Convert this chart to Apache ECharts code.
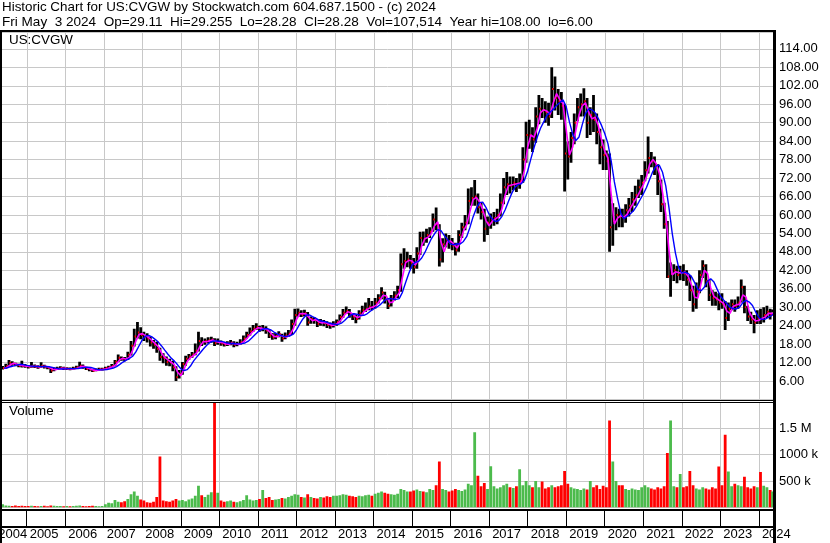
<!DOCTYPE html>
<html><head><meta charset="utf-8">
<script src="https://cdn.jsdelivr.net/npm/echarts@6/dist/echarts.min.js"></script>
<style>html,body{margin:0;padding:0;background:#fff}#c{width:830px;height:543px}</style>
</head><body><div id="c"></div>
<script>
// ---- data (monthly, May 2004 .. May 2024) ----
const firstMonth = {year: 2004, month: 5};
const firstOpen = 10.0;
const closes = [
 10.2,10.8,11.9,11.6,11.3,11.0,10.9,10.8,
 10.6,10.8,10.7,10.5,10.9,10.6,10.3,9.4,9.9,10.0,10.2,10.0,
 10.0,9.9,10.1,10.4,11.0,10.5,10.0,9.7,9.3,9.6,9.8,9.8,
 10.2,10.5,10.9,12.3,13.6,13.2,13.0,14.5,17.5,20.5,21.8,21.0,
 20.5,19.8,18.5,17.8,16.5,13.8,13.5,12.2,12.0,10.5,7.2,8.2,
 11.5,13.2,14.0,14.6,15.8,19.0,18.6,18.9,19.2,19.4,18.3,18.8,
 18.2,17.9,18.1,18.4,17.8,18.0,18.6,19.8,21.0,22.2,23.0,23.6,
 22.8,23.0,22.4,20.8,20.2,20.6,21.2,19.8,20.8,21.4,24.5,27.5,
 28.2,27.6,28.0,25.0,26.2,25.8,24.6,25.2,24.8,24.2,24.0,24.5,
 25.2,26.8,28.2,28.8,27.6,27.0,26.2,28.0,29.0,29.5,30.2,30.0,
 31.5,33.0,34.8,32.5,30.5,32.8,33.8,35.5,44.0,45.0,45.5,44.5,
 43.0,47.5,52.5,52.0,53.5,54.5,58.5,57.0,45.5,50.5,52.0,51.0,
 50.0,48.5,53.5,56.0,57.5,64.5,65.5,66.0,62.5,61.0,55.5,57.5,
 58.5,59.0,60.0,64.0,69.0,70.0,69.5,70.5,70.0,71.0,78.0,86.0,
 86.0,84.5,92.0,94.5,94.0,93.5,92.0,101.0,98.0,97.0,95.5,80.0,
 79.0,85.0,90.0,95.0,96.0,97.0,90.0,92.5,91.0,87.0,82.0,79.5,
 77.5,56.0,58.0,60.0,59.5,59.0,61.5,63.0,65.0,66.5,69.0,70.5,
 74.5,78.5,77.5,76.0,71.0,63.5,57.0,40.0,41.0,42.0,40.5,41.8,
 41.0,39.0,35.5,31.0,35.0,40.5,43.5,38.5,34.0,33.0,32.5,31.5,
 31.0,26.5,29.5,31.0,30.5,31.5,36.5,30.0,27.0,26.0,25.0,26.5,
 26.2,27.5,28.5,27.5,28.28
];
const highs = [
 10.9,11.6,12.8,12.4,11.9,11.6,12.6,11.5,
 11.2,12.2,11.4,11.1,12.1,11.3,10.9,10.5,10.4,10.6,10.8,10.6,
 10.5,10.4,10.6,11.0,12.3,11.4,10.6,10.3,9.9,10.1,10.3,10.3,
 10.6,11.0,11.5,12.8,14.6,14.0,13.8,15.5,19.0,23.0,25.2,23.5,
 22.0,21.5,20.5,19.3,18.8,16.8,15.0,14.0,13.2,12.6,10.8,9.6,
 12.2,14.2,14.8,15.4,18.2,22.0,20.2,19.8,20.2,20.4,19.9,19.8,
 19.2,18.8,18.9,19.3,18.9,18.8,19.6,20.8,22.0,23.4,24.2,24.8,
 24.0,24.2,23.8,22.8,21.6,21.6,22.2,21.4,21.8,22.6,26.0,29.5,
 29.6,29.0,29.2,28.4,27.0,26.8,26.0,26.2,25.8,25.4,25.0,25.4,
 26.0,27.6,29.4,30.2,29.4,28.0,27.6,29.0,30.5,31.5,33.0,32.0,
 33.0,34.2,36.5,35.0,32.6,34.0,35.2,37.0,47.5,49.2,48.0,47.0,
 46.0,49.5,54.5,54.6,55.5,56.0,60.5,62.4,57.0,52.4,54.0,53.5,
 52.5,51.0,55.0,57.5,60.0,68.6,69.0,71.4,67.0,64.0,62.0,59.5,
 60.5,61.0,62.0,67.0,72.0,74.0,72.5,72.5,72.0,73.5,82.0,90.3,
 91.0,88.5,95.0,99.0,98.0,97.0,96.5,108.0,105.0,101.0,100.0,96.0,
 84.0,87.0,93.0,98.0,99.5,101.2,98.0,95.0,99.0,93.0,88.0,84.5,
 81.0,80.0,63.8,62.5,62.0,62.0,63.5,65.5,67.5,69.5,71.5,73.0,
 77.5,85.5,80.5,79.0,76.5,71.5,64.0,58.0,44.5,44.0,43.5,43.5,
 44.0,42.0,40.5,37.0,38.0,42.0,45.3,44.0,39.0,35.5,35.0,34.5,
 34.5,32.0,31.5,32.5,32.5,33.5,39.0,37.0,30.5,28.5,27.5,29.0,
 29.5,30.0,30.5,29.5,29.26
];
const lows = [
 9.7,10.0,10.7,11.0,10.8,10.5,10.4,10.3,
 10.1,10.3,10.2,10.0,10.3,10.1,9.8,8.6,9.2,9.6,9.8,9.6,
 9.6,9.5,9.7,9.9,10.3,10.0,9.6,9.2,8.9,9.2,9.4,9.4,
 9.8,10.0,10.4,10.8,12.2,12.6,12.4,12.8,14.3,17.2,19.8,19.6,
 19.0,18.5,17.2,16.5,15.2,12.6,11.8,11.0,10.8,9.2,6.0,6.8,
 8.0,11.0,12.8,13.6,14.4,15.6,17.4,17.8,18.2,18.4,17.4,17.8,
 17.5,17.2,17.4,17.6,17.0,17.3,17.8,18.6,19.8,20.8,22.0,22.6,
 22.0,22.2,21.4,20.0,19.4,19.6,20.2,18.8,19.6,20.4,21.0,24.0,
 26.8,26.8,27.0,24.0,24.6,24.6,23.6,24.0,23.8,23.2,23.0,23.4,
 24.0,25.0,26.6,27.8,26.6,25.8,24.8,26.0,27.6,28.4,29.0,29.0,
 29.6,31.2,32.6,31.2,29.4,30.2,32.2,33.0,35.0,42.5,43.0,42.5,
 41.0,42.5,47.0,50.0,51.0,52.5,54.5,55.0,43.2,44.5,49.5,49.0,
 48.5,46.8,48.0,52.5,55.0,57.0,63.0,63.0,60.5,58.5,51.3,53.5,
 55.5,56.5,57.0,59.5,63.5,66.5,67.0,68.0,67.5,68.5,70.5,77.0,
 81.5,80.5,83.5,89.5,91.5,90.0,89.0,91.5,94.0,92.5,91.0,67.6,
 71.5,77.0,83.0,90.5,92.0,92.0,85.0,86.0,87.0,83.0,76.5,74.6,
 74.6,48.0,50.0,55.0,56.0,56.0,57.5,59.5,61.0,63.0,65.5,66.5,
 71.0,73.5,75.5,73.0,66.5,61.0,55.5,39.5,33.4,38.5,37.8,38.8,
 38.5,37.0,32.0,28.5,29.5,34.5,39.5,36.5,32.0,30.5,30.5,29.0,
 29.5,22.6,25.5,29.0,28.5,29.5,31.5,28.0,25.5,24.5,21.5,24.5,
 24.5,25.0,26.5,26.0,28.28
];
// volume in thousands of shares
const volumes = [
 60,40,35,30,40,30,35,30,
 30,35,30,25,30,35,25,40,35,30,30,25,
 30,25,30,35,40,30,25,30,35,30,25,30,
 60,90,80,140,110,100,120,160,250,300,220,150,
 130,100,90,110,200,960,130,120,110,130,160,130,
 140,120,150,170,220,410,230,200,240,290,2100,280,
 130,110,120,130,110,100,120,140,230,150,130,140,
 160,330,180,200,140,150,160,180,170,200,220,250,
 240,200,190,250,200,180,170,200,190,210,200,220,
 220,230,250,240,220,210,200,220,210,230,240,220,
 260,280,300,280,260,250,240,260,350,330,300,300,
 320,340,310,300,290,350,330,420,870,350,330,300,
 320,350,330,310,340,450,420,1420,600,400,460,350,
 780,400,360,380,420,450,380,370,400,720,420,500,
 420,380,500,380,490,360,380,420,380,400,420,690,
 450,380,360,350,330,360,340,500,380,420,350,410,
 380,1640,870,500,420,420,350,330,360,340,330,380,
 420,380,360,340,380,360,400,1030,1640,400,380,630,
 380,400,690,420,360,340,380,360,340,380,360,775,
 420,1370,680,400,450,420,400,580,380,360,400,380,
 670,410,380,330,300
];
const priceTickValues = [6,12,18,24,30,36,42,48,54,60,66,72,78,84,90,96,102,108,114];
const volTickLabels = {500: '500 k', 1000: '1000 k', 1500: '1.5 M'};
const yearLabels = ['2004','2005','2006','2007','2008','2009','2010','2011','2012','2013','2014','2015','2016','2017','2018','2019','2020','2021','2022','2023','2024'];
const header1 = 'Historic Chart for US:CVGW by Stockwatch.com 604.687.1500 - (c) 2024';
const header2 = 'Fri May  3 2024  Op=29.11  Hi=29.255  Lo=28.28  Cl=28.28  Vol=107,514  Year hi=108.00  lo=6.00';

// ---- layout ----
const xMin = 2004.36, xMax = 2024.366;
const plotLeft = 2, plotRight = 773;
const pxPerYear = (plotRight - plotLeft) / (xMax - xMin);
const FONT = '"Liberation Sans", Arial, sans-serif';

const opens = closes.map((c, i) => i === 0 ? firstOpen : closes[i - 1]);
function tMid(i) { return Math.min(firstMonth.year + (firstMonth.month - 1 + i + 0.5) / 12, xMax - 0.012); }
function tEnd(i) { return Math.min(firstMonth.year + (firstMonth.month - 1 + i + 1) / 12, xMax); }
const ohlc = closes.map((c, i) => [tMid(i), opens[i], c, lows[i], highs[i]]);
const maShort = closes.map((c, i) => [tEnd(i), (opens[i] + c) / 2]);
const maLong = maShort.map((p, i) => {
  const s = maShort.slice(Math.max(0, i - 3), i + 1);
  return [p[0], s.reduce((a, b) => a + b[1], 0) / s.length];
});
const volData = volumes.map((v, i) => [tMid(i), v, closes[i] >= opens[i] ? 1 : 0]);
const yearBounds = yearLabels.slice(1).map(Number);
const yearLabelVals = yearLabels.map(Number);

const chart = echarts.init(document.getElementById('c'), null, {renderer: 'canvas'});
const gridCol = '#c8c8c8';
const priceMax = 119.5, volMax = 1990;
const priceH = 367.45, volH = 105.5;
function xGridAxis(idx) {
  return {gridIndex: idx, type: 'value', min: xMin, max: xMax, position: 'bottom',
    axisLine: {show: false}, splitLine: {show: false}, axisTick: {show: false}, axisLabel: {show: false}};
}
const strip2Left = plotLeft - (xMin - 2004) * pxPerYear;

const baseGraphic = [
  {type: 'text', left: 2, top: 1, z: 10, style: {text: header1, font: '13.4px ' + FONT, fill: '#000'}},
  {type: 'text', left: 2, top: 15, z: 10, style: {text: header2, font: '13.55px ' + FONT, fill: '#000'}},
  {type: 'text', left: 9, top: 34, z: 10, style: {text: 'US:CVGW', font: '13.4px ' + FONT, fill: '#000'}},
  {type: 'text', left: 9, top: 405, z: 10, style: {text: 'Volume', font: '13.4px ' + FONT, fill: '#000'}},
  {type: 'rect', z: 20, shape: {x: 0, y: 30, width: 776, height: 2}, style: {fill: '#000'}},
  {type: 'rect', z: 20, shape: {x: 0, y: 30, width: 2, height: 513}, style: {fill: '#000'}},
  {type: 'rect', z: 20, shape: {x: 773, y: 30, width: 3, height: 513}, style: {fill: '#000'}},
  {type: 'rect', z: 20, shape: {x: 0, y: 400, width: 773, height: 1}, style: {fill: '#000'}},
  {type: 'rect', z: 20, shape: {x: 0, y: 402, width: 773, height: 1}, style: {fill: '#000'}},
  {type: 'rect', z: 20, shape: {x: 0, y: 509, width: 773, height: 2}, style: {fill: '#000'}},
  {type: 'rect', z: 20, shape: {x: 0, y: 526, width: 773, height: 2}, style: {fill: '#000'}}
];

chart.setOption({
  animation: false,
  backgroundColor: '#fff',
  grid: [
    {left: plotLeft, right: 830 - plotRight, top: 32, height: priceH, outerBoundsMode: 'none', containLabel: false},
    {left: plotLeft, right: 830 - plotRight, top: 402, height: volH, outerBoundsMode: 'none', containLabel: false},
    {left: strip2Left, right: 830 - plotRight, top: 511, height: 15, outerBoundsMode: 'none', containLabel: false}
  ],
  xAxis: [
    xGridAxis(0),
    xGridAxis(1),
    {gridIndex: 2, type: 'value', min: 2004, max: xMax, position: 'bottom',
      axisLine: {show: false},
      splitLine: {show: false},
      axisTick: {show: true, inside: true, length: 15, customValues: yearBounds, lineStyle: {color: '#000', width: 1}},
      axisLabel: {show: true, customValues: yearLabelVals, align: 'left', margin: 2, padding: [0, 0, 0, 3],
        showMinLabel: true, showMaxLabel: true,
        formatter: v => {
          const y = String(Math.round(v));
          return y === yearLabels[0] ? '  ' + y : y;
        },
        color: '#000', fontFamily: FONT, fontSize: 13}}
  ],
  yAxis: [
    {gridIndex: 0, type: 'value', position: 'right', min: 0, max: priceMax, interval: 6,
      axisLine: {show: false}, axisTick: {show: false},
      splitLine: {show: true, lineStyle: {color: gridCol, width: 1}},
      axisLabel: {margin: 6, color: '#000', fontFamily: FONT, fontSize: 13,
        formatter: v => priceTickValues.indexOf(Math.round(v * 100) / 100) >= 0 ? v.toFixed(2) : ''}},
    {gridIndex: 1, type: 'value', position: 'right', min: 0, max: volMax, interval: 500,
      axisLine: {show: false}, axisTick: {show: false},
      splitLine: {show: true, lineStyle: {color: gridCol, width: 1}},
      axisLabel: {margin: 6, color: '#000', fontFamily: FONT, fontSize: 13,
        formatter: v => volTickLabels[Math.round(v)] || ''}},
    {gridIndex: 2, type: 'value', show: false, min: 0, max: 1}
  ],
  series: [
    {type: 'custom', xAxisIndex: 0, yAxisIndex: 0, clip: true, data: ohlc, z: 2,
      encode: {x: 0, y: [1, 2, 3, 4]},
      renderItem: (params, api) => {
        const t = api.value(0), c = api.value(2), l = api.value(3), h = api.value(4);
        const pl = api.coord([t, l]), ph = api.coord([t, h]), pc = api.coord([t, c]);
        return {type: 'group', children: [
          {type: 'rect', shape: {x: pl[0] - 1.4, y: ph[1], width: 2.8, height: Math.max(1, pl[1] - ph[1])}, style: {fill: '#000'}},
          {type: 'rect', shape: {x: pc[0] + 0.4, y: pc[1] - 1, width: 1.8, height: 2}, style: {fill: '#ff0000'}}
        ]};
      }},
    {type: 'line', xAxisIndex: 0, yAxisIndex: 0, data: maShort, showSymbol: false, z: 3,
      lineStyle: {color: '#ff00ff', width: 1.6}, itemStyle: {color: '#ff00ff'}},
    {type: 'line', xAxisIndex: 0, yAxisIndex: 0, data: maLong, showSymbol: false, z: 4,
      lineStyle: {color: '#0000ff', width: 1.4}, itemStyle: {color: '#0000ff'}},
    {type: 'custom', xAxisIndex: 1, yAxisIndex: 1, clip: true, data: volData, z: 2,
      encode: {x: 0, y: 1},
      renderItem: (params, api) => {
        const t = api.value(0), v = api.value(1), up = api.value(2);
        const p0 = api.coord([t, 0]), p1 = api.coord([t, v]);
        return {type: 'rect', shape: {x: p0[0] - 1.4, y: p1[1], width: 2.8, height: p0[1] - p1[1]},
          style: {fill: up ? '#4cbb4c' : '#ff0000'}};
      }},
    {type: 'line', xAxisIndex: 2, yAxisIndex: 2, data: [], showSymbol: false}
  ],
  graphic: baseGraphic
});

// year grid lines: positions come from the x axis scale of each panel
const gridLines = [];
[[0, 0, priceMax], [1, 1, volMax]].forEach(([xi, yi, ymax]) => {
  yearBounds.forEach(v => {
    const x = Math.round(chart.convertToPixel({xAxisIndex: xi}, v));
    const yTop = chart.convertToPixel({yAxisIndex: yi}, ymax);
    const yBot = chart.convertToPixel({yAxisIndex: yi}, 0);
    gridLines.push({type: 'rect', z: 1, silent: true,
      shape: {x: x, y: yTop, width: 1, height: yBot - yTop}, style: {fill: gridCol}});
  });
});
chart.setOption({graphic: baseGraphic.concat(gridLines)});
</script></body></html>
